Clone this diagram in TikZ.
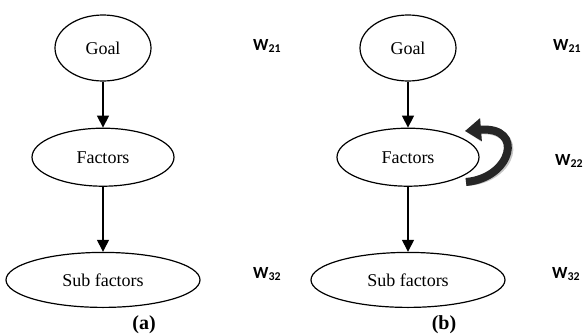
\documentclass[tikz,border=0pt]{standalone}
\usepackage{fontspec}
\setmainfont{Liberation Serif}
\newfontfamily\wfont{Carlito}
\usepackage{tikz}
\usetikzlibrary{shapes.geometric, arrows.meta, positioning}

\begin{document}
\begin{tikzpicture}[
    x=1pt, y=-1pt,
    stage/.style={ellipse, draw=black, line width=1.2pt, inner sep=0pt, align=center, font=\fontsize{18}{20}\selectfont},
    goalnode/.style={stage, minimum width=96pt, minimum height=66pt},
    factnode/.style={stage, minimum width=142pt, minimum height=58pt},
    subnode/.style={stage, minimum width=194pt, minimum height=55pt},
    weight/.style={anchor=west, inner sep=0pt, font=\wfont\bfseries\fontsize{17}{20}\selectfont},
    caption/.style={inner sep=0pt, font=\bfseries\fontsize{20}{22}\selectfont},
    arrow/.style={-{Triangle[length=12pt, width=12pt]}, line width=1.4pt}
]
    \useasboundingbox (0,0) rectangle (584,335);

    % Panel (a)
    \node (goalA) [goalnode] at (103,48) {Goal};
    \node (factA) [factnode, below=46pt of goalA] {Factors};
    \node (subA) [subnode, below=65pt of factA] {Sub factors};
    \node (capA) [caption] at (144,325) {(a)};
    \node (wA21) [weight] at (253,46) {W\textsubscript{21}};
    \node (wA32) [weight] at (253,274) {W\textsubscript{32}};

    % Panel (b)
    \node (goalB) [goalnode] at (408,48) {Goal};
    \node (factB) [factnode, below=46pt of goalB] {Factors};
    \node (subB) [subnode, below=65pt of factB] {Sub factors};
    \node (capB) [caption] at (444,325) {(b)};
    \node (wB21) [weight] at (553,46) {W\textsubscript{21}};
    \node (wB22) [weight] at (555,161) {W\textsubscript{22}};
    \node (wB32) [weight] at (552,274) {W\textsubscript{32}};

    % Connecting Arrows
    \draw [arrow] (goalA) -- (factA);
    \draw [arrow] (factA) -- (subA);
    \draw [arrow] (goalB) -- (factB);
    \draw [arrow] (factB) -- (subB);

    % Self loop on Factors (b)
    \coordinate (loopS) at (466,182);
    \coordinate (loopE) at (465,131);
    \draw [gray!45, line width=8pt, shift={(2,2)}, -{Triangle[length=16pt, width=22pt]}]
        (loopS) .. controls (512,178) and (525,126) .. (loopE);
    \draw [black!85, line width=8pt, -{Triangle[length=16pt, width=22pt]}]
        (loopS) .. controls (512,178) and (525,126) .. (loopE);

\end{tikzpicture}
\end{document}
